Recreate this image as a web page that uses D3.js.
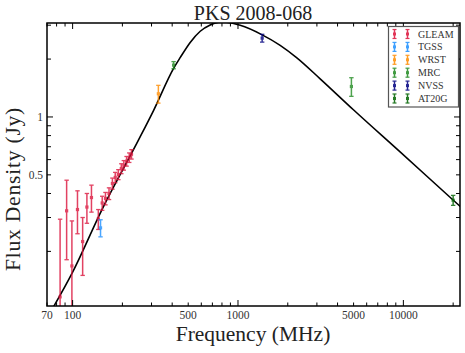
<!DOCTYPE html>
<html><head><meta charset="utf-8">
<script src="https://cdn.jsdelivr.net/npm/d3@7"></script>
<style>html,body{margin:0;padding:0;background:#fff;}svg{display:block;}</style>
</head><body>
<svg id="c" width="465" height="353"></svg>
<script>
// ---- data (MHz, Jy) ----
const gleamFreq = [84, 92, 99, 107, 115, 122, 130, 143, 151, 158, 166, 174, 181, 189, 197, 204, 212, 220, 227];
const gleamFlux = [0.116, 0.325, 0.168, 0.330, 0.225, 0.340, 0.381, 0.295, 0.357, 0.377, 0.400, 0.451, 0.485, 0.502, 0.539, 0.561, 0.589, 0.615, 0.640];
const gleamErr  = [0.178, 0.144, 0.120, 0.083, 0.075, 0.060, 0.061, 0.035, 0.030, 0.028, 0.028, 0.030, 0.030, 0.030, 0.032, 0.032, 0.034, 0.035, 0.036];
const tgssFreq = [147.5], tgssFlux = [0.265], tgssErr = [0.027];
const wrstFreq = [330], wrstFlux = [1.32], wrstErr = [0.14];
const mrcFreq = [408], mrcFlux = [1.86], mrcErr = [0.08];
const nvssFreq = [1400], nvssFlux = [2.57], nvssErr = [0.12];
const pmnFreq = [4850], pmnFlux = [1.44], pmnErr = [0.16];
const at20gFreq = [20000], at20gFlux = [0.369], at20gErr = [0.022];
// fitted model curve
const fitFreq = [70, 100, 150, 250, 309, 408, 448, 514, 591, 679, 803, 1031, 1400, 1799, 2270, 3139, 4988, 9592, 20050, 23700];
const fitFlux = [0.0900, 0.156, 0.328, 0.757, 1.083, 1.79, 2.04, 2.44, 2.79, 3.01, 3.12, 2.995, 2.673, 2.358, 2.030, 1.579, 1.090, 0.656, 0.369, 0.324];
const xMajorTicks = [70, 100, 500, 1000, 5000, 10000];
const xMinorTicks = [80, 90, 200, 300, 400, 600, 700, 800, 900, 2000, 3000, 4000, 6000, 7000, 8000, 9000, 20000];
const yMajorTicks = [0.5, 1];
const yMinorTicks = [0.2, 0.3, 0.4, 0.6, 0.7, 0.8, 0.9, 2, 3];
const legendNames = ["GLEAM", "TGSS", "WRST", "MRC", "NVSS", "AT20G"];
const legendColors = ["#dc143c", "#1e90ff", "#ff8c00", "#228b22", "#000080", "#006400"];

// ---- layout ----
const L = 47, R = 460, T = 23, B = 306;
const svg = d3.select("#c");
const x = d3.scaleLog().domain([70, 22000]).range([L, R]);
const y = d3.scaleLog().domain([0.104, 3.08]).range([B, T]);
const serif = "'Liberation Serif','DejaVu Serif',serif";

svg.append("defs").append("clipPath").attr("id", "clip")
  .append("rect").attr("x", L).attr("y", T).attr("width", R - L).attr("height", B - T);

const plot = svg.append("g").attr("clip-path", "url(#clip)");

// curve
const line = d3.line().x(d => x(d[0])).y(d => y(d[1])).curve(d3.curveMonotoneX);
plot.append("path").datum(fitFreq.map((f, i) => [f, fitFlux[i]]))
  .attr("d", line).attr("fill", "none").attr("stroke", "#000").attr("stroke-width", 1.6);

function errSeries(freqs, flux, err, color) {
  const g = plot.append("g").attr("stroke", color).attr("fill", color).attr("opacity", 0.8);
  freqs.forEach((f, i) => {
    const lo = Math.max(flux[i] - err[i], 0.05), hi = flux[i] + err[i];
    const cx = x(f), y0 = y(lo), y1 = y(hi), cy = y(flux[i]);
    g.append("line").attr("x1", cx).attr("x2", cx).attr("y1", y0).attr("y2", y1).attr("stroke-width", 1.5);
    [y0, y1].forEach(yy => g.append("line").attr("x1", cx - 2.2).attr("x2", cx + 2.2).attr("y1", yy).attr("y2", yy).attr("stroke-width", 1.3));
    g.append("rect").attr("x", cx - 1.6).attr("y", cy - 1.6).attr("width", 3.2).attr("height", 3.2).attr("stroke", "none");
  });
}
errSeries(gleamFreq, gleamFlux, gleamErr, legendColors[0]);
errSeries(tgssFreq, tgssFlux, tgssErr, legendColors[1]);
errSeries(wrstFreq, wrstFlux, wrstErr, legendColors[2]);
errSeries(mrcFreq, mrcFlux, mrcErr, legendColors[3]);
errSeries(pmnFreq, pmnFlux, pmnErr, legendColors[3]);
errSeries(nvssFreq, nvssFlux, nvssErr, legendColors[4]);
errSeries(at20gFreq, at20gFlux, at20gErr, legendColors[5]);

// frame
svg.append("rect").attr("x", L).attr("y", T).attr("width", R - L).attr("height", B - T)
  .attr("fill", "none").attr("stroke", "#000").attr("stroke-width", 1.5);

// ticks (inward, all four sides)
const tk = svg.append("g").attr("stroke", "#000").attr("stroke-width", 1);
function xt(v, len) {
  tk.append("line").attr("x1", x(v)).attr("x2", x(v)).attr("y1", B).attr("y2", B - len);
  tk.append("line").attr("x1", x(v)).attr("x2", x(v)).attr("y1", T).attr("y2", T + len);
}
function yt(v, len) {
  tk.append("line").attr("y1", y(v)).attr("y2", y(v)).attr("x1", L).attr("x2", L + len);
  tk.append("line").attr("y1", y(v)).attr("y2", y(v)).attr("x1", R).attr("x2", R - len);
}
xMajorTicks.forEach(v => xt(v, [100, 1000, 10000].includes(v) ? 6 : 3.5));
xMinorTicks.forEach(v => xt(v, 3.5));
yMajorTicks.forEach(v => yt(v, v === 1 ? 6 : 4));
yMinorTicks.forEach(v => yt(v, 4));

// tick labels
const lab = svg.append("g").attr("font-family", serif).attr("font-size", 11.5).attr("fill", "#333");
xMajorTicks.forEach(v => lab.append("text").attr("x", x(v)).attr("y", B + 13).attr("text-anchor", "middle").text(v));
yMajorTicks.forEach(v => lab.append("text").attr("x", L - 4).attr("y", y(v) + 4).attr("text-anchor", "end").text(v));

// titles
svg.append("text").attr("x", 253).attr("y", 20).attr("text-anchor", "middle")
  .attr("font-family", serif).attr("font-size", 20).attr("fill", "#222").text("PKS 2008-068");
svg.append("text").attr("x", 253).attr("y", 341).attr("text-anchor", "middle")
  .attr("font-family", serif).attr("font-size", 21.5).attr("fill", "#222").text("Frequency (MHz)");
svg.append("text").attr("transform", "translate(19.5,189) rotate(-90)").attr("text-anchor", "middle")
  .attr("font-family", serif).attr("font-size", 21.5).attr("letter-spacing", 0.8).attr("fill", "#222").text("Flux Density (Jy)");

// legend
const lg = svg.append("g");
lg.append("rect").attr("x", 388.5).attr("y", 26.5).attr("width", 70).attr("height", 80.5)
  .attr("fill", "#fff").attr("stroke", "#555").attr("stroke-width", 1.2);
legendNames.forEach((n, i) => {
  const cy = 34 + i * 12.9;
  const g = lg.append("g").attr("stroke", legendColors[i]).attr("fill", legendColors[i]).attr("opacity", 0.85);
  [394.5, 407.5].forEach(cx => {
    g.append("line").attr("x1", cx).attr("x2", cx).attr("y1", cy - 4.5).attr("y2", cy + 4.5).attr("stroke-width", 1.5);
    [cy - 4.5, cy + 4.5].forEach(yy => g.append("line").attr("x1", cx - 2).attr("x2", cx + 2).attr("y1", yy).attr("y2", yy).attr("stroke-width", 1.2));
    g.append("rect").attr("x", cx - 1.5).attr("y", cy - 1.5).attr("width", 3).attr("height", 3).attr("stroke", "none");
  });
  lg.append("text").attr("x", 418).attr("y", cy + 3.5).attr("font-family", serif).attr("font-size", 10)
    .attr("fill", "#333").text(n);
});
</script>
</body></html>
